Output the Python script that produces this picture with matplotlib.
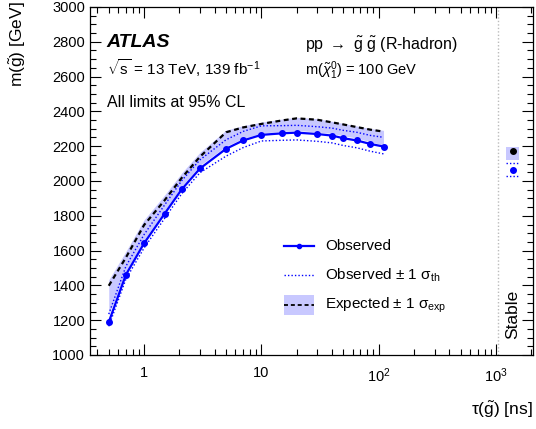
import matplotlib
matplotlib.use("Agg")
import matplotlib.pyplot as plt
import matplotlib.patches as patches
from matplotlib.ticker import FixedLocator, NullFormatter, MultipleLocator
import numpy as np

plt.rcParams['font.family'] = ['Liberation Sans', 'DejaVu Sans']
plt.rcParams['mathtext.fontset'] = 'custom'
plt.rcParams['mathtext.rm'] = 'Liberation Sans'
plt.rcParams['mathtext.it'] = 'Liberation Sans:italic'
plt.rcParams['mathtext.bf'] = 'Liberation Sans:bold'

# gluino lifetime [ns] and mass limits [GeV]
tau = [0.5, 0.7, 1.0, 1.5, 2.1, 3.0, 5.0, 7.0, 10, 15, 20, 30, 40, 50, 65, 85, 110]
m_obs = [1189, 1461, 1642, 1813, 1953, 2072, 2185, 2233, 2265, 2274, 2278, 2270, 2261, 2246, 2233, 2213, 2198]
m_obs_up = [1235, 1510, 1692, 1863, 2003, 2122, 2237, 2285, 2317, 2318, 2320, 2312, 2304, 2291, 2280, 2262, 2251]
m_obs_dn = [1165, 1436, 1615, 1786, 1928, 2048, 2143, 2192, 2230, 2234, 2236, 2228, 2219, 2204, 2191, 2171, 2156]
m_exp = [1398, 1560, 1747, 1890, 2019, 2140, 2280, 2308, 2328, 2348, 2360, 2352, 2337, 2325, 2310, 2295, 2284]
m_exp_up = [1432, 1595, 1777, 1920, 2047, 2165, 2292, 2318, 2338, 2356, 2366, 2358, 2343, 2331, 2316, 2302, 2291]
m_exp_dn = [1232, 1475, 1660, 1830, 1970, 2090, 2200, 2245, 2275, 2285, 2290, 2282, 2273, 2260, 2247, 2226, 2206]

# stable R-hadron
stable_obs = 2061
stable_obs_up = 2105
stable_obs_dn = 2027
stable_exp = 2175
stable_exp_up = 2198
stable_exp_dn = 2118

tau_stable = 1400
stable_lo, stable_hi = 1220, 1575
stable_sep = 1050

W, H = 536, 429
fig = plt.figure(figsize=(W / 100, H / 100), dpi=100)
ax = fig.add_axes([90 / W, 1 - 355 / H, 443 / W, 348 / H])

blue = '#0000ff'
band = '#c8c8ff'
dots = (0, (1, 1.5))
dash = (0, (2.2, 1.6))

ax.fill_between(tau, m_exp_dn, m_exp_up, color=band, lw=0)
ax.plot(tau, m_exp, color='black', ls=dash, lw=1.6)
ax.plot(tau, m_obs_up, color=blue, ls=dots, lw=1.0)
ax.plot(tau, m_obs_dn, color=blue, ls=dots, lw=1.0)
ax.plot(tau, m_obs, color=blue, lw=1.6, marker='o', ms=4)

# stable point
ax.fill_between([stable_lo, stable_hi], [stable_exp_dn] * 2, [stable_exp_up] * 2, color=band, lw=0)
ax.plot([tau_stable], [stable_exp], 'o', color='black', ms=4)
ax.plot([stable_lo, stable_hi], [stable_obs_up] * 2, color=blue, ls=dots, lw=1.0)
ax.plot([stable_lo, stable_hi], [stable_obs_dn] * 2, color=blue, ls=dots, lw=1.0)
ax.plot([tau_stable], [stable_obs], 'o', color=blue, ms=4)
ax.axvline(stable_sep, color='#bbbbbb', ls=dots, lw=1.0)
ax.text(tau_stable, 1232, 'Stable', rotation=90, ha='center', va='center', fontsize=12.5)

ax.set_xscale('log')
ax.set_xlim(0.346, 2070)
ax.set_ylim(1000, 3000)
ax.xaxis.set_major_locator(FixedLocator([1, 10, 100, 1000]))
ax.set_xticklabels(['1', '10', '$10^{2}$', '$10^{3}$'])
ax.xaxis.set_minor_locator(FixedLocator([k * 10.0 ** e for e in range(-1, 4) for k in range(2, 10)]))
ax.xaxis.set_minor_formatter(NullFormatter())
ax.yaxis.set_major_locator(MultipleLocator(200))
ax.yaxis.set_minor_locator(MultipleLocator(50))
ax.tick_params(which='both', direction='in', top=True, right=True, labelsize=10.5, width=0.8)
ax.tick_params(which='major', length=8)
ax.tick_params(which='minor', length=4)
ax.tick_params(axis='x', pad=8)
for s in ax.spines.values():
    s.set_linewidth(0.9)

# labels
fig.text(18 / W, 1 - 1 / H, r'm($\mathrm{\tilde{g}}$) [GeV]', rotation=90, ha='center', va='top', fontsize=12.5)
fig.text(533 / W, 1 - 410 / H, r'$\mathrm{\tau}$($\mathrm{\tilde{g}}$) [ns]', ha='right', va='center', fontsize=12.5)

tx = ax.transAxes
ax.text(0.038, 0.899, 'ATLAS', transform=tx, fontsize=14, fontweight='bold', fontstyle='italic', va='center')
ax.text(0.038, 0.825, r'$\sqrt{\mathrm{s}}$ = 13 TeV, 139 fb$^{-1}$', transform=tx, fontsize=11, va='center')
ax.text(0.038, 0.727, 'All limits at 95% CL', transform=tx, fontsize=11.5, va='center')
ax.text(0.485, 0.891, r'pp $\rightarrow$ $\mathrm{\tilde{g}}$ $\mathrm{\tilde{g}}$ (R-hadron)', transform=tx, fontsize=11.5, va='center')
ax.text(0.485, 0.816, r'm($\tilde{\chi}^{0}_{1}$) = 100 GeV', transform=tx, fontsize=10.5, va='center')

# legend drawn by hand
hx0, hx1, lx = 0.438, 0.506, 0.530
rows = [0.314, 0.230, 0.144]
ax.plot([hx0, hx1], [rows[0]] * 2, transform=tx, color=blue, lw=1.6)
ax.plot([(hx0 + hx1) / 2], [rows[0]], transform=tx, color=blue, marker='o', ms=3)
ax.plot([hx0, hx1], [rows[1]] * 2, transform=tx, color=blue, ls=dots, lw=1.0)
ax.add_patch(patches.Rectangle((hx0, rows[2] - 0.029), hx1 - hx0, 0.058, transform=tx, color=band, lw=0))
ax.plot([hx0, hx1], [rows[2]] * 2, transform=tx, color='black', ls=dash, lw=1.3)
ax.text(lx, rows[0], 'Observed', transform=tx, fontsize=11, va='center')
ax.text(lx, rows[1], r'Observed $\pm$ 1 $\mathrm{\sigma_{th}}$', transform=tx, fontsize=11, va='center')
ax.text(lx, rows[2], r'Expected $\pm$ 1 $\mathrm{\sigma_{exp}}$', transform=tx, fontsize=11, va='center')

fig.savefig('out.png', dpi=100)
